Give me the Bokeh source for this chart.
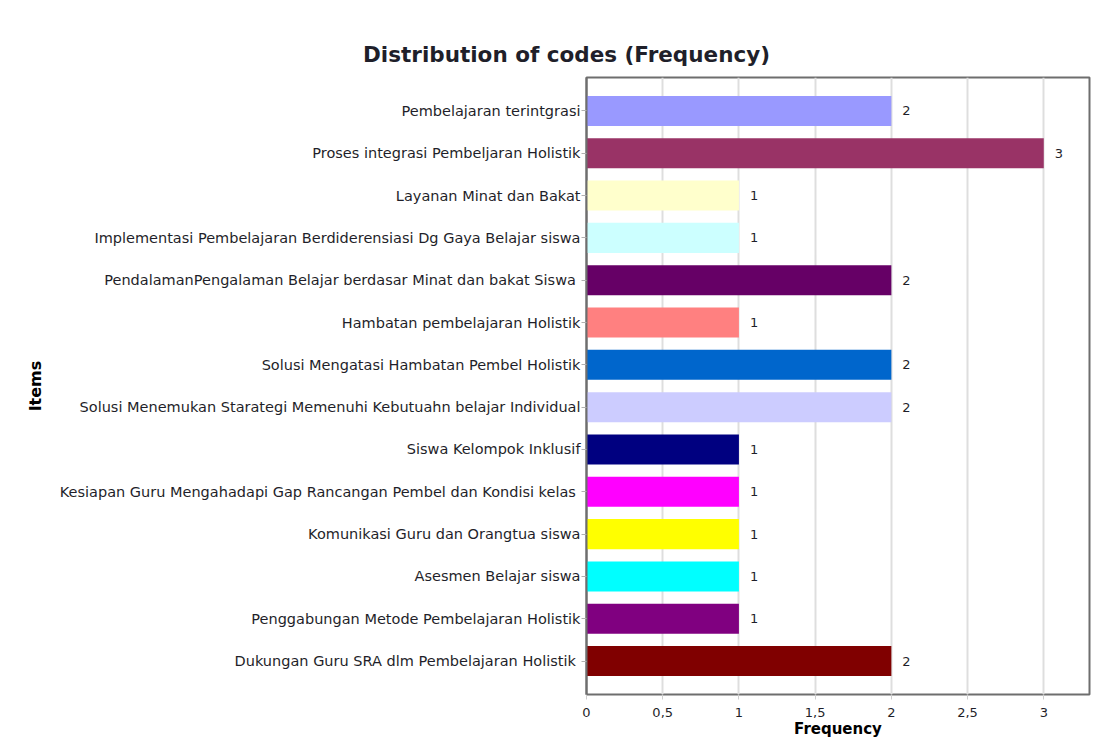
from bokeh.plotting import figure
from bokeh.models import Range1d, FactorRange, FixedTicker, ColumnDataSource, Div
from bokeh.layouts import column
from bokeh.embed import file_html
from bokeh.resources import INLINE
from bokeh.core.properties import value

# ---- data (top to bottom as in the chart) ----
items = [
    "Pembelajaran terintgrasi",
    "Proses integrasi Pembeljaran Holistik",
    "Layanan Minat dan Bakat",
    "Implementasi Pembelajaran Berdiderensiasi Dg Gaya Belajar siswa",
    "PendalamanPengalaman  Belajar berdasar Minat dan bakat Siswa",
    "Hambatan pembelajaran Holistik",
    "Solusi Mengatasi Hambatan Pembel Holistik",
    "Solusi Menemukan Starategi Memenuhi Kebutuahn belajar Individual",
    "Siswa Kelompok Inklusif",
    "Kesiapan Guru  Mengahadapi Gap Rancangan Pembel dan Kondisi kelas",
    "Komunikasi Guru dan Orangtua siswa",
    "Asesmen Belajar siswa",
    "Penggabungan Metode Pembelajaran Holistik",
    "Dukungan Guru SRA  dlm Pembelajaran Holistik",
]
frequency = [2, 3, 1, 1, 2, 1, 2, 2, 1, 1, 1, 1, 1, 2]
colors = [
    "#9999FF", "#993366", "#FFFFCC", "#CCFFFF", "#660066", "#FF8080", "#0066CC",
    "#CCCCFF", "#000080", "#FF00FF", "#FFFF00", "#00FFFF", "#800080", "#800000",
]
x_ticks = [0, 0.5, 1, 1.5, 2, 2.5, 3]
x_tick_labels = ["0", "0,5", "1", "1,5", "2", "2,5", "3"]

src = ColumnDataSource(dict(item=items, freq=frequency, color=colors,
                            lab=[str(v) for v in frequency]))

FONT = "DejaVu Sans"
TXT = "#1f1f2a"

title = Div(
    text="Distribution of codes (Frequency)",
    width=1101, height=68, margin=(0, 0, 0, 0),
    styles={"font-family": FONT, "font-weight": "bold", "font-size": "21.5px",
            "color": TXT, "padding-left": "363px", "padding-top": "40px",
            "white-space": "nowrap"},
)

p = figure(
    width=1101, height=672,
    x_range=Range1d(0, 3.3),
    y_range=FactorRange(factors=items[::-1], range_padding=0.29,
                        range_padding_units="absolute"),
    output_backend="svg", toolbar_location=None,
    min_border_left=586, min_border_right=12, min_border_top=9, min_border_bottom=46,
)
p.hbar(y="item", right="freq", left=0, height=0.71, color="color", line_color=None, source=src)
p.text(x="freq", y="item", text="lab", source=src, x_offset=11, text_baseline="middle",
       text_align="left", text_font=value(FONT), text_font_size="13px", text_color=TXT)

p.outline_line_color = "#6e6e6e"
p.outline_line_width = 2
p.ygrid.grid_line_color = None
p.xgrid.grid_line_color = "#dedede"
p.xgrid.grid_line_width = 2
p.xgrid.ticker = FixedTicker(ticks=x_ticks)

p.xaxis.ticker = FixedTicker(ticks=x_ticks)
p.xaxis.major_label_overrides = {t: l for t, l in zip(x_ticks, x_tick_labels)}
p.xaxis.axis_line_color = None
p.xaxis.major_tick_line_color = "#cfcfcf"
p.xaxis.major_tick_in = 0
p.xaxis.major_tick_out = 5
p.xaxis.minor_tick_line_color = None
p.xaxis.major_label_standoff = 8
p.xaxis.axis_label = "Frequency"
p.xaxis.axis_label_standoff = 0
p.xaxis.major_label_text_font_size = "13px"
p.xaxis.axis_label_text_font_size = "15px"

p.yaxis.axis_line_color = "#6e6e6e"
p.yaxis.axis_line_width = 2
p.yaxis.major_tick_line_color = "#b0b0b0"
p.yaxis.major_tick_in = 0
p.yaxis.major_tick_out = 5
p.yaxis.major_label_standoff = 1
p.yaxis.axis_label = "Items"
p.yaxis.axis_label_standoff = 12
p.yaxis.major_label_text_font_size = "14.5px"
p.yaxis.axis_label_text_font_size = "16px"

for ax in (p.xaxis, p.yaxis):
    ax.major_label_text_font = FONT
    ax.major_label_text_color = TXT
    ax.axis_label_text_font = FONT
    ax.axis_label_text_font_style = "bold"
    ax.axis_label_text_color = "#000000"

layout = column(title, p, spacing=0)
open("out.html", "w").write(file_html(layout, INLINE))
